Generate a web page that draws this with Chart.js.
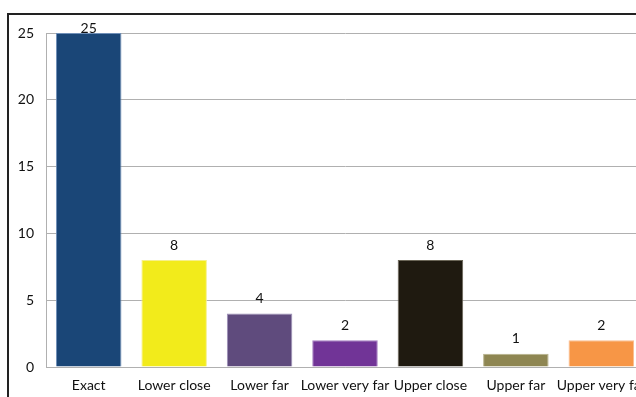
<!DOCTYPE html>
<html>
<head>
<meta charset="utf-8">
<script src="https://cdn.jsdelivr.net/npm/chart.js@4/dist/chart.umd.min.js"></script>
<style>
  html, body { margin: 0; padding: 0; background: #fff; overflow: hidden; width: 636px; height: 397px; }
  #frame { position: absolute; left: 7px; top: 13px; width: 700px; height: 500px; border: 2px solid #222; }
  #wrap { position: absolute; left: 0; top: 0; width: 644px; height: 397px; }
</style>
</head>
<body>
<div id="frame"></div>
<div id="wrap"><canvas id="chart" width="644" height="397"></canvas></div>
<script>
const categories = ['Exact', 'Lower close', 'Lower far', 'Lower very far', 'Upper close', 'Upper far', 'Upper very far'];
const counts = [25, 8, 4, 2, 8, 1, 2];
const barColors = ['#1a4677', '#f2eb1b', '#5f4b7d', '#713497', '#1f1a10', '#8e8652', '#f79646'];
const edgeColors = ['#6f8fb8', '#f6f08a', '#9d8fb8', '#a57fc2', '#6b6657', '#b7b28c', '#f9be90'];
const yTicks = [0, 5, 10, 15, 20, 25];

const fontFamily = 'Lato, "Open Sans", sans-serif';

// Value labels above each bar
const barLabels = {
  id: 'barLabels',
  afterDatasetsDraw(chart) {
    const { ctx, chartArea } = chart;
    const meta = chart.getDatasetMeta(0);
    ctx.save();
    ctx.font = '14px ' + fontFamily;
    ctx.fillStyle = '#111';
    ctx.textAlign = 'center';
    ctx.textBaseline = 'middle';
    meta.data.forEach((bar, i) => {
      const y = Math.max(bar.y - 15, chartArea.top - 5);
      ctx.fillText(String(counts[i]), bar.x, y);
    });
    ctx.restore();
  }
};

new Chart(document.getElementById('chart'), {
  type: 'bar',
  data: {
    labels: categories,
    datasets: [{
      data: counts,
      backgroundColor: barColors,
      borderColor: edgeColors,
      borderWidth: 1,
      categoryPercentage: 1,
      barPercentage: 0.767,
    }],
  },
  options: {
    responsive: false,
    animation: false,
    layout: { padding: { top: 33, right: 0, bottom: 0, left: 0 } },
    plugins: {
      legend: { display: false },
      tooltip: { enabled: false },
    },
    scales: {
      x: {
        grid: { display: false, drawTicks: false },
        border: { color: '#b0b0b0', width: 1 },
        ticks: { color: '#111', font: { family: fontFamily, size: 14 }, padding: 10, maxRotation: 0, autoSkip: false },
        afterFit: s => { s.height = 30; s.paddingLeft = 0; s.paddingRight = 0; },
      },
      y: {
        min: 0,
        max: 25,
        afterBuildTicks: s => { s.ticks = yTicks.map(v => ({ value: v })); },
        grid: { color: '#b0b0b0', lineWidth: 1, drawTicks: false },
        border: { color: '#b0b0b0', width: 1 },
        ticks: { color: '#111', font: { family: fontFamily, size: 14 }, padding: 12 },
        afterFit: s => { s.width = 46; s.paddingTop = 0; s.paddingBottom = 0; },
      },
    },
  },
  plugins: [barLabels],
});
</script>
</body>
</html>
